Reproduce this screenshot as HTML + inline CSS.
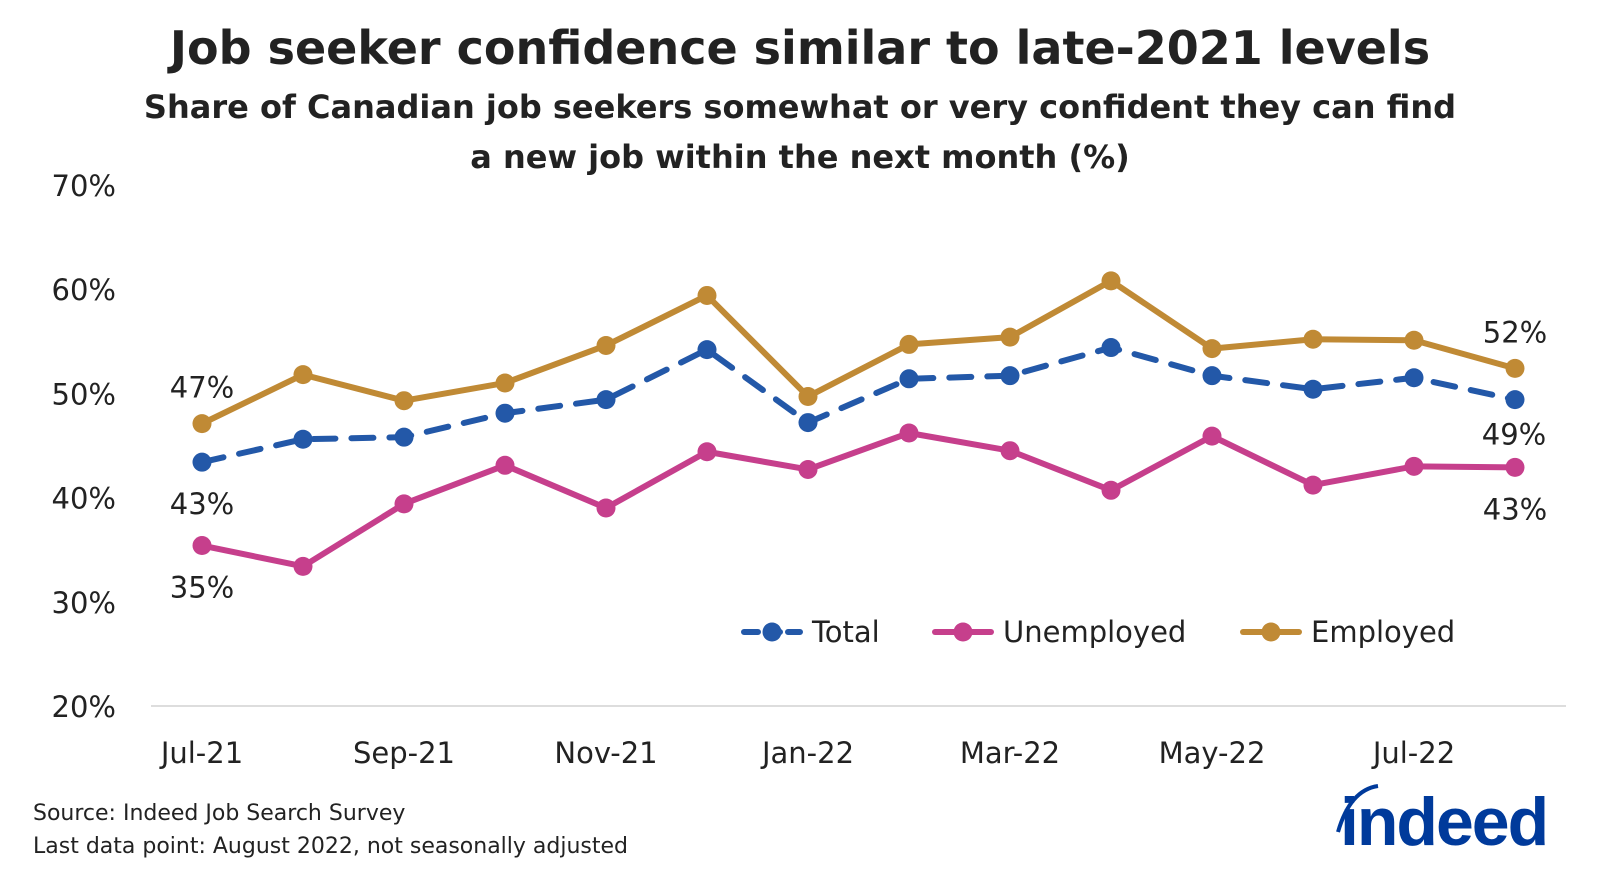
<!DOCTYPE html>
<html><head><meta charset="utf-8"><style>
html,body{margin:0;padding:0;background:#fff;}
svg{display:block;font-family:"DejaVu Sans","Liberation Sans",sans-serif;}
</style></head><body>
<svg id="chart" width="1600" height="874" viewBox="0 0 1600 874">
<text x="800" y="64" text-anchor="middle" font-size="46" font-weight="bold" fill="#222">Job seeker confidence similar to late-2021 levels</text>
<text x="800" y="118" text-anchor="middle" font-size="32" font-weight="bold" fill="#222">Share of Canadian job seekers somewhat or very confident they can find</text>
<text x="800" y="168" text-anchor="middle" font-size="32" font-weight="bold" fill="#222">a new job within the next month (%)</text>
<g id="axes"></g>
<g id="series"></g>
<g id="legend"></g>
<text x="33" y="820" font-size="22" fill="#222">Source: Indeed Job Search Survey</text>
<text x="33" y="853" font-size="22" fill="#222">Last data point: August 2022, not seasonally adjusted</text>
<g>
<path d="M1338 832 Q1350 790 1378 786" stroke="#003A9B" stroke-width="4" fill="none"/>
<text x="1340" y="845" font-size="68" font-weight="bold" fill="#003A9B" font-family="Liberation Sans, sans-serif" letter-spacing="-2">indeed</text>
</g>
</svg>
<script>
const months = ["Jul-21","Aug-21","Sep-21","Oct-21","Nov-21","Dec-21","Jan-22","Feb-22","Mar-22","Apr-22","May-22","Jun-22","Jul-22","Aug-22"];
const totalVals = [43.4,45.6,45.8,48.1,49.4,54.2,47.2,51.4,51.7,54.4,51.7,50.4,51.5,49.4];
const unemployedVals = [35.4,33.4,39.4,43.1,39.0,44.4,42.7,46.2,44.5,40.7,45.9,41.2,43.0,42.9];
const employedVals = [47.1,51.8,49.3,51.0,54.6,59.4,49.7,54.7,55.4,60.8,54.3,55.2,55.1,52.4];
const yTicks = [20,30,40,50,60,70];
const xTickLabels = ["Jul-21","Sep-21","Nov-21","Jan-22","Mar-22","May-22","Jul-22"];

const NS="http://www.w3.org/2000/svg";
const x0=202, step=101, yBase=706, pxPer=10.42;
function xs(i){return x0+i*step;}
function ys(v){return yBase-(v-20)*pxPer;}
function mk(tag,attrs,parent){const e=document.createElementNS(NS,tag);for(const k in attrs)e.setAttribute(k,attrs[k]);parent.appendChild(e);return e;}
const axes=document.getElementById('axes'), series=document.getElementById('series'), legend=document.getElementById('legend');

const base=mk('line',{x1:151,x2:1566,y1:yBase,y2:yBase,stroke:'#dddddd','stroke-width':2},axes);


yTicks.forEach(v=>{
  const t=mk('text',{x:116,y:ys(v)+11,'text-anchor':'end','font-size':29,fill:'#222'},axes);
  t.textContent=v+'%';
  
  
});
xTickLabels.forEach(lab=>{
  const i=months.indexOf(lab);
  const t=mk('text',{x:xs(i),y:763,'text-anchor':'middle','font-size':29,fill:'#222'},axes);
  t.textContent=lab;
  
  
});

function drawSeries(vals,color,dash,name){
  const g=mk('g',{},series);
  
  
  const pts=vals.map((v,i)=>xs(i)+','+ys(v)).join(' ');
  const pl=mk('polyline',{points:pts,fill:'none',stroke:color,'stroke-width':6,'stroke-linejoin':'round','stroke-linecap':'round'},g);
  if(dash)pl.setAttribute('stroke-dasharray',dash);
  
  
  vals.forEach((v,i)=>{
    const c=mk('circle',{cx:xs(i),cy:ys(v),r:9.5,fill:color},g);
    
    
  });
}
drawSeries(employedVals,'#C08A35',null,'employed');
drawSeries(totalVals,'#2358A8','22 16','total');
drawSeries(unemployedVals,'#C63F8C',null,'unemployed');

function label(txt,x,y,name){
  const t=mk('text',{x:x,y:y,'text-anchor':'middle','font-size':29,fill:'#222'},series);
  t.textContent=txt;
  
  
}
const n=months.length-1;
label(Math.round(employedVals[0])+'%',xs(0),ys(employedVals[0])-26,'employed-start-label');
label(Math.round(totalVals[0])+'%',xs(0),ys(totalVals[0])+52,'total-start-label');
label(Math.round(unemployedVals[0])+'%',xs(0),ys(unemployedVals[0])+52,'unemployed-start-label');
label(Math.round(employedVals[n])+'%',xs(n),ys(employedVals[n])-26,'employed-end-label');
label(Math.round(totalVals[n])+'%',xs(n)-1,ys(totalVals[n])+45,'total-end-label');
label(Math.round(unemployedVals[n])+'%',xs(n),ys(unemployedVals[n])+52,'unemployed-end-label');

const legItems=[["Total","#2358A8",'14 8',744],["Unemployed","#C63F8C",null,935],["Employed","#C08A35",null,1243]];
legItems.forEach(it=>{
  const g=mk('g',{},legend);
  
  
  const l=mk('line',{x1:it[3],x2:it[3]+56,y1:632,y2:632,stroke:it[1],'stroke-width':6,'stroke-linecap':'round'},g);
  if(it[2])l.setAttribute('stroke-dasharray',it[2]);
  mk('circle',{cx:it[3]+28,cy:632,r:9.5,fill:it[1]},g);
  const t=mk('text',{x:it[3]+68,y:642,'font-size':29,fill:'#222'},g);
  t.textContent=it[0];
});
</script>
</body></html>
